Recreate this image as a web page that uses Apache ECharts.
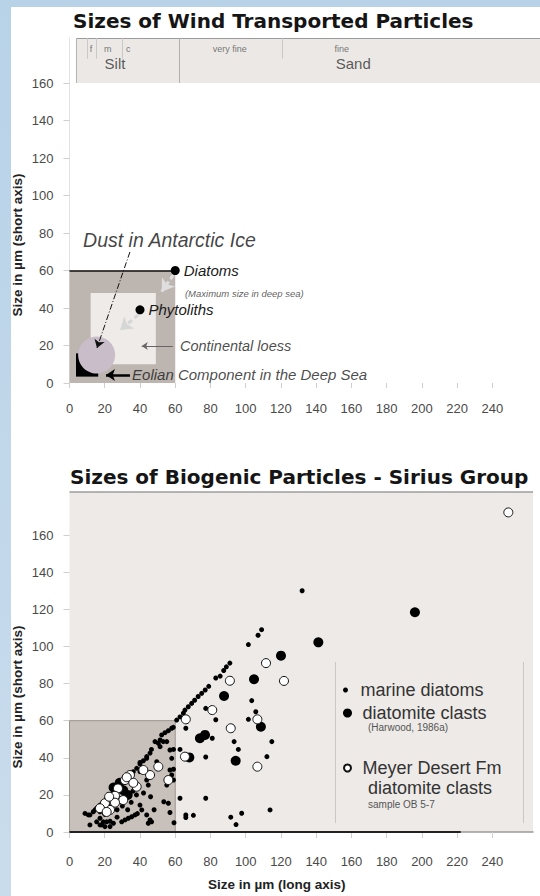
<!DOCTYPE html>
<html><head><meta charset="utf-8">
<script src="https://cdn.jsdelivr.net/npm/echarts@6/dist/echarts.min.js"></script>
<style>
html,body{margin:0;padding:0;background:#fff;}
#stripLeft{position:absolute;left:0;top:0;width:11px;height:896px;background:linear-gradient(#b8d2e8,#c9dcec);}
#stripTop{position:absolute;left:0;top:0;width:540px;height:7px;background:#b8d2e8;}
#chart{position:absolute;left:0;top:0;width:540px;height:896px;}
</style></head><body>
<div id="stripLeft"></div><div id="stripTop"></div>
<div id="chart"></div>
<script>
// ---------- data ----------
const xTickValues = [0,20,40,60,80,100,120,140,160,180,200,220,240];
const yTickValues = [0,20,40,60,80,100,120,140,160];

// top chart: wind transported particles
const windParticleNames = ['Diatoms','Phytoliths'];
const windParticleSizes = [[60,60],[40,39]];
const antarcticDust = [[15.4,14.9]];
const deepSeaDiatomRange = [[0,0],[60,60]];
const continentalLoessRange = [[12,10],[49,48]];
const eolianDeepSeaRange = [[3.7,3.4],[16.3,15.8]];
const grainScaleStart = 4;
const siltSandBoundary = 62;
const siltSubBoundaries = [10,15,30];
const sandSubBoundaries = [121];

// bottom chart: biogenic particles
const marineDiatoms = [
[132,130],[109,109],[107,106],[101.5,101],[91,91],[89,89],[87.5,87],[85.5,84],[83,83],[79,78.5],[77,76.5],[75,74.7],[73,73],[71,71],[69.3,69.3],[67.4,67.5],[65.5,65.7],[64.6,64],[62.7,62],[60.8,60.3],
[103.4,70.8],[105.7,64.8],[77.3,66.6],[66,55.9],[83,60.5],[101.5,60.7],[81,50.5],[93.4,48.7],[114.8,48.7],[95.8,44.5],[112,40.6],[77.3,40.4],[59,44.5],[62.7,44.5],[59,33.8],[62.7,18.2],[77.3,18.2],[66,9.2],[66,7.8],[70.3,9],[91.5,8],[97.7,10.1],[94.5,4],[113.8,11.9],[59.3,5],[59,28],
[8.8,10],[10.7,9.2],[13.5,10.9],[15.4,12.8],[17.3,14.5],[19.2,16.3],[21.1,18.2],[23,19.9],[24.9,21.7],[26.8,23.5],[28.6,25.3],[30.5,27.1],[32.4,28.9],[34.3,30.7],[36.2,32.5],[38.1,34.3],[40,36.6],[41.9,38.4],[43.8,40.6],[45.7,42.5],[46.5,44.5],[48.5,48.7],[50.4,47.8],[51.4,49.6],[52.3,52.3],[54.2,53.5],[56.1,54.6],[58,55.9],[58.9,56.4],
[11.6,3.8],[15.4,5.5],[17.3,3.8],[19.2,5.5],[23,2.9],[24.9,4.7],[23,5.8],[29.6,5.5],[31.5,6.5],[33.4,7.4],[35.3,8.2],[37.2,9.2],[38.5,9.9],[40,14.5],[41,11.9],[43.8,9.2],[44.7,4.7],[45.7,6.5],[46.6,5.5],[53.5,16.3],[56.1,15.5],[57,10.5],[40,32.5],[43.8,28],[44.7,25.3],[57,33.4],[58,30.7],[55.2,25.3],[40,37.5],[43.8,39.7],[49.5,37.9],[51.4,46],[53.2,48.7],[55.2,48.7],[57,44.2],[58,39.7],[14.5,11.9],[17.3,10.9],[17.3,7.4],[18.3,3.8],[20.1,2.9],[21.1,5.5],[11.6,9.2],[20,9.5],[22,14],[27,12],[30,14],[35,16],[38,20],[36,22],[42,21],[46,19],[48,12],[27,8],[33,12],[26,17],[31,21]
];
const diatomiteClasts = [[196,118.4],[141.2,102.2],[120,95],[104.7,82.3],[87.7,73.3],[108.6,56.7],[74,50.5],[76.9,52.3],[94.3,38.4],[68,40.2],[25,24],[28.5,26.5],[30.5,22.5],[33,20]];
const meyerClasts = [[249,172.2],[111.5,91],[91,81.5],[121.7,81.4],[81,65.7],[106.6,60.7],[66,60.7],[91.5,55.9],[65.5,40.6],[106.6,35.2],[50.4,35.2],[45.7,30.7],[56.1,28],[41.9,33.4],[38.1,24.4],[34.3,30.7],[31.5,28],[27.5,23.5],[25.8,19.5],[30.5,17.2],[25.8,15.8],[23,11.9],[20.1,15.5],[17.3,12.8],[21.1,10.8],[36.2,26.5],[32.5,29.5],[22.5,19]];

// ---------- chart ----------
const chart = echarts.init(document.getElementById('chart'), null, {renderer:'svg'});
const LS = 'Liberation Sans';
const TOPX = 267, TOPY = 184, BOTX = 263, BOTY = 183.2;

function seg(x1,y1,x2,y2,style,endSym,endSize){
  return [
    {coord:[x1,y1], symbol:'none', lineStyle:style},
    {coord:[x2,y2], symbol:endSym||'none', symbolSize:endSize||8, lineStyle:style}
  ];
}
function txt(x,y,text,st){
  return {value:[x,y], label:Object.assign({show:true, formatter:text, position:[0,0], align:'left', verticalAlign:'middle', fontFamily:LS, color:'#1a1a1a'}, st)};
}
const axisLabelStyle = {fontFamily:LS, fontSize:13, color:'#4a4a4a'};

const option = {
  animation:false,
  backgroundColor:'transparent',
  title:[
    {text:'Sizes of Wind Transported Particles', left:73, top:11, padding:0,
     textStyle:{fontFamily:'DejaVu Sans', fontWeight:'bold', fontSize:20, color:'#151515'}},
    {text:'Sizes of Biogenic Particles - Sirius Group', left:70, top:467, padding:0,
     textStyle:{fontFamily:'DejaVu Sans', fontWeight:'bold', fontSize:20, color:'#151515'}},
    {text:'(Harwood, 1986a)', left:368, top:721, padding:0, textStyle:{fontFamily:LS, fontSize:10, fontWeight:'normal', color:'#555', lineHeight:12}},
    {text:'diatomite clasts', left:368, top:778, padding:0, textStyle:{fontFamily:LS, fontSize:18, fontWeight:'normal', color:'#333', lineHeight:20}},
    {text:'sample OB 5-7', left:368, top:798, padding:0, textStyle:{fontFamily:LS, fontSize:10, fontWeight:'normal', color:'#555', lineHeight:12}},
    {text:'Size in µm (long axis)', left:208, top:877, padding:0, textStyle:{fontFamily:LS, fontSize:13.5, fontWeight:'bold', color:'#222', lineHeight:14}}
  ],
  graphic:[
    {type:'text', x:17.5, y:245, rotation:Math.PI/2, style:{text:'Size in µm (short axis)', align:'center', verticalAlign:'middle', font:'bold 13.5px "Liberation Sans"', fill:'#222'}},
    {type:'text', x:17.5, y:697, rotation:Math.PI/2, style:{text:'Size in µm (short axis)', align:'center', verticalAlign:'middle', font:'bold 13.5px "Liberation Sans"', fill:'#222'}}
  ],
  legend:[
    {data:['marine diatoms'], left:343, top:680, padding:0, itemWidth:20, itemHeight:5, icon:'circle', selectedMode:false, textStyle:{fontFamily:LS, fontSize:18, color:'#333', lineHeight:20}},
    {data:['diatomite clasts'], left:343, top:703, padding:0, itemWidth:20, itemHeight:9, icon:'circle', selectedMode:false, textStyle:{fontFamily:LS, fontSize:18, color:'#333', lineHeight:20}},
    {data:['Meyer Desert Fm'], left:343, top:758, padding:0, itemWidth:20, itemHeight:7, icon:'circle', selectedMode:false, textStyle:{fontFamily:LS, fontSize:18, color:'#333', lineHeight:20}}
  ],
  grid:[
    {left:69.5, right:0, top:38, bottom:513},
    {left:69.5, right:7, top:492, bottom:64, show:true, backgroundColor:'#edeae7', borderWidth:0}
  ],
  xAxis:[
    {gridIndex:0, type:'value', min:0, max:TOPX, splitLine:{show:false}, axisLine:{show:false},
     axisTick:{customValues:xTickValues, length:5, lineStyle:{color:'#cfcfcf'}},
     axisLabel:Object.assign({customValues:xTickValues, margin:19}, axisLabelStyle)},
    {gridIndex:1, type:'value', min:0, max:BOTX, splitLine:{show:false},
     axisLine:{show:true, lineStyle:{color:'#9a9a9a', width:1.5}},
     axisTick:{customValues:xTickValues, length:6, lineStyle:{color:'#cfcfcf'}},
     axisLabel:Object.assign({customValues:xTickValues, margin:23}, axisLabelStyle)}
  ],
  yAxis:[
    {gridIndex:0, type:'value', min:0, max:TOPY, splitLine:{show:false},
     axisLine:{show:true, lineStyle:{color:'#e2e2e2'}},
     axisTick:{customValues:yTickValues, length:6, lineStyle:{color:'#cfcfcf'}},
     axisLabel:Object.assign({customValues:yTickValues, margin:16}, axisLabelStyle)},
    {gridIndex:1, type:'value', min:0, max:BOTY, splitLine:{show:false}, axisLine:{show:false},
     axisTick:{customValues:yTickValues, length:6, lineStyle:{color:'#cfcfcf'}},
     axisLabel:Object.assign({customValues:yTickValues, margin:16}, axisLabelStyle)}
  ],
  series:[
    // ---- top chart backgrounds ----
    {type:'scatter', xAxisIndex:0, yAxisIndex:0, data:[], z:1, silent:true,
     markArea:{silent:true, label:{show:false}, data:[
       [{coord:[grainScaleStart,160], itemStyle:{color:'#ebe8e5', opacity:1}},{coord:[TOPX,TOPY]}],
       [{coord:deepSeaDiatomRange[0], itemStyle:{color:'#bdb5af', opacity:1}},{coord:deepSeaDiatomRange[1]}],
       [{coord:continentalLoessRange[0], itemStyle:{color:'#eeebe8', opacity:1}},{coord:continentalLoessRange[1]}],
       [{coord:eolianDeepSeaRange[0], itemStyle:{color:'#000', opacity:1}},{coord:eolianDeepSeaRange[1]}]
     ]}},
    // ---- top chart lines ----
    {type:'scatter', xAxisIndex:0, yAxisIndex:0, data:[], z:2, silent:true,
     markLine:{silent:true, symbol:'none', label:{show:false}, data:[
       seg(grainScaleStart,TOPY,TOPX,TOPY,{color:'#9a9a9a', width:1, type:'solid'}),
       seg(grainScaleStart,160,grainScaleStart,TOPY,{color:'#b5b5b5', width:1, type:'solid'}),
       seg(siltSandBoundary,160,siltSandBoundary,TOPY,{color:'#b0b0b0', width:1, type:'solid'}),
       seg(siltSubBoundaries[0],173,siltSubBoundaries[0],TOPY,{color:'#c8c8c8', width:1, type:'solid'}),
       seg(siltSubBoundaries[1],173,siltSubBoundaries[1],TOPY,{color:'#c8c8c8', width:1, type:'solid'}),
       seg(siltSubBoundaries[2],173,siltSubBoundaries[2],TOPY,{color:'#c8c8c8', width:1, type:'solid'}),
       seg(sandSubBoundaries[0],173,sandSubBoundaries[0],TOPY,{color:'#c8c8c8', width:1, type:'solid'}),
       seg(0,60,60,60,{color:'#111', width:1.5, type:'solid'})
     ]}},
    // dust circle
    {type:'scatter', name:'Dust in Antarctic Ice', xAxisIndex:0, yAxisIndex:0, z:3, silent:true,
     symbolSize:37, itemStyle:{color:'#c9bdca', opacity:1}, data:antarcticDust},
    // arrows
    {type:'scatter', xAxisIndex:0, yAxisIndex:0, data:[], z:4, silent:true,
     markLine:{silent:true, label:{show:false}, symbol:'none', data:[
       seg(58.9,57.6,52.3,48.7,{color:'#dedede', width:3, type:[5,3]},'arrow',12),
       seg(39,36.3,28.7,28.3,{color:'#d6d6d6', width:3, type:[5,3]},'arrow',12),
       seg(34.3,69.9,15.6,18.7,{color:'#111', width:1, type:[6,2,1,2]},'arrow',8),
       seg(58.7,19.7,41,19.7,{color:'#666', width:1, type:'solid'},'arrow',6),
       seg(34.3,4.3,20.7,4.3,{color:'#000', width:2.5, type:'solid'},'arrow',9)
     ]}},
    // diatoms / phytoliths
    {type:'scatter', name:'wind particles', xAxisIndex:0, yAxisIndex:0, z:5, silent:true,
     symbolSize:9, itemStyle:{color:'#000', opacity:1},
     data:windParticleSizes.map((v,i)=>({name:windParticleNames[i], value:v})),
     label:{show:true, position:'right', distance:4, formatter:'{b}', fontFamily:LS, fontStyle:'italic', fontSize:15, color:'#1a1a1a'}},
    // text annotations
    {type:'scatter', xAxisIndex:0, yAxisIndex:0, z:6, silent:true, symbolSize:0, data:[
       txt(7.7,76.3,'Dust in Antarctic Ice',{fontStyle:'italic', fontSize:19.5, color:'#111'}),
       txt(65.5,48,'(Maximum size in deep sea)',{fontStyle:'italic', fontSize:9.5, color:'#333'}),
       txt(62.7,19.7,'Continental loess',{fontStyle:'italic', fontSize:14.5}),
       txt(35.5,4.3,'Eolian Component in the Deep Sea',{fontStyle:'italic', fontSize:15}),
       txt(12.2,178,'f',{fontSize:9, color:'#555', align:'center'}),
       txt(21.7,178,'m',{fontSize:9, color:'#555', align:'center'}),
       txt(33.4,178,'c',{fontSize:9, color:'#555', align:'center'}),
       txt(91,178,'very fine',{fontSize:9, color:'#555', align:'center'}),
       txt(154.5,178,'fine',{fontSize:9, color:'#555', align:'center'}),
       txt(25.8,170.5,'Silt',{fontSize:15, color:'#333', align:'center'}),
       txt(161,170.5,'Sand',{fontSize:15, color:'#333', align:'center'})
     ]},
    // ---- bottom chart backgrounds & lines ----
    {type:'scatter', xAxisIndex:1, yAxisIndex:1, data:[], z:1, silent:true,
     markArea:{silent:true, label:{show:false}, data:[
       [{coord:deepSeaDiatomRange[0], itemStyle:{color:'#c8c0ba', opacity:1, borderColor:'#9e958f', borderWidth:1}},{coord:deepSeaDiatomRange[1]}]
     ]},
     markLine:{silent:true, symbol:'none', label:{show:false}, data:[
       seg(0,BOTY,BOTX,BOTY,{color:'#9c9c9c', width:1.5, type:'solid'}),
       seg(150.7,4.8,150.7,91.6,{color:'#cbc7c3', width:1, type:'solid'}),
       seg(257.4,4.8,257.4,91.6,{color:'#cbc7c3', width:1, type:'solid'}),
       seg(0,0,222,0,{color:'#222', width:1.8, type:'solid'})
     ]}},
    {type:'scatter', name:'marine diatoms', xAxisIndex:1, yAxisIndex:1, z:3, symbolSize:5, itemStyle:{color:'#000', opacity:1}, data:marineDiatoms},
    {type:'scatter', name:'diatomite clasts', xAxisIndex:1, yAxisIndex:1, z:4, symbolSize:10, itemStyle:{color:'#000', opacity:1}, data:diatomiteClasts},
    {type:'scatter', name:'Meyer Desert Fm', xAxisIndex:1, yAxisIndex:1, z:5, symbolSize:9, itemStyle:{color:'#fff', opacity:1, borderColor:'#111', borderWidth:1}, data:meyerClasts}
  ]
};
chart.setOption(option);
</script>
</body></html>
